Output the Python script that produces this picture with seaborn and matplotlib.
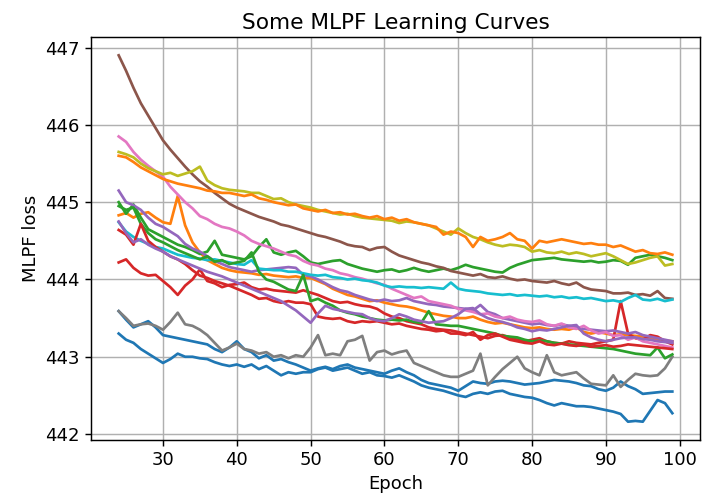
import numpy as np
import pandas as pd
import matplotlib
matplotlib.use("Agg")
import matplotlib.pyplot as plt
import seaborn as sns

epochs = list(range(24, 100))

# one loss curve per run (epochs 24..99)
blue_a = [443.59, 443.48, 443.38, 443.42, 443.46, 443.38, 443.28, 443.26, 443.24, 443.22,
          443.20, 443.18, 443.16, 443.10, 443.06, 443.12, 443.20, 443.10, 443.06, 442.98,
          443.02, 442.95, 442.97, 442.93, 442.90, 442.86, 442.82, 442.85, 442.87, 442.84,
          442.88, 442.90, 442.86, 442.84, 442.82, 442.80, 442.78, 442.82, 442.85, 442.80,
          442.76, 442.70, 442.66, 442.64, 442.62, 442.60, 442.56, 442.62, 442.68, 442.66,
          442.65, 442.68, 442.69, 442.68, 442.66, 442.64, 442.65, 442.66, 442.68, 442.70,
          442.69, 442.68, 442.66, 442.63, 442.62, 442.58, 442.56, 442.60, 442.68, 442.62,
          442.58, 442.52, 442.53, 442.54, 442.55, 442.55]
orange_a = [444.83, 444.86, 444.80, 444.85, 444.87, 444.80, 444.74, 444.72, 445.08, 444.70,
            444.48, 444.35, 444.25, 444.20, 444.15, 444.12, 444.10, 444.09, 444.08, 444.06,
            444.07, 444.05, 444.04, 444.03, 444.04, 444.02, 444.02, 443.98, 443.94, 443.88,
            443.84, 443.80, 443.78, 443.75, 443.72, 443.73, 443.70, 443.68, 443.66, 443.65,
            443.63, 443.60, 443.57, 443.55, 443.53, 443.52, 443.50, 443.50, 443.52, 443.48,
            443.45, 443.43, 443.44, 443.42, 443.40, 443.38, 443.37, 443.38, 443.36, 443.35,
            443.36, 443.35, 443.38, 443.32, 443.30, 443.32, 443.30, 443.28, 443.29, 443.28,
            443.27, 443.26, 443.24, 443.22, 443.21, 443.20]
green_a = [445.00, 444.85, 444.97, 444.80, 444.65, 444.60, 444.55, 444.50, 444.45, 444.42,
           444.38, 444.33, 444.36, 444.50, 444.32, 444.30, 444.28, 444.26, 444.30, 444.42,
           444.52, 444.35, 444.32, 444.35, 444.37, 444.30, 444.22, 444.20, 444.22, 444.24,
           444.25, 444.20, 444.17, 444.14, 444.12, 444.10, 444.12, 444.13, 444.10, 444.12,
           444.15, 444.12, 444.10, 444.12, 444.14, 444.12, 444.15, 444.19, 444.16, 444.14,
           444.12, 444.10, 444.09, 444.15, 444.19, 444.22, 444.25, 444.26, 444.27, 444.28,
           444.26, 444.25, 444.24, 444.23, 444.24, 444.22, 444.23, 444.25, 444.24, 444.19,
           444.28, 444.30, 444.32, 444.30, 444.28, 444.25]
red_a = [444.22, 444.26, 444.15, 444.08, 444.05, 444.06, 443.98, 443.90, 443.80, 443.92,
         444.00, 444.13, 443.98, 443.95, 443.90, 443.93, 443.94, 443.96, 443.90, 443.87,
         443.88, 443.86, 443.85, 443.84, 443.83, 443.86, 443.83, 443.80, 443.76, 443.72,
         443.70, 443.71, 443.68, 443.66, 443.65, 443.62, 443.56, 443.52, 443.50, 443.46,
         443.44, 443.42, 443.38, 443.36, 443.35, 443.34, 443.32, 443.30, 443.28, 443.26,
         443.24, 443.27, 443.28, 443.25, 443.22, 443.20, 443.22, 443.24, 443.20, 443.18,
         443.17, 443.20, 443.18, 443.17, 443.16, 443.18, 443.20, 443.22, 443.72, 443.30,
         443.24, 443.22, 443.28, 443.26, 443.20, 443.16]
purple_a = [445.15, 445.00, 444.96, 444.90, 444.80, 444.72, 444.68, 444.62, 444.56, 444.46,
            444.40, 444.36, 444.30, 444.24, 444.20, 444.16, 444.14, 444.12, 444.10, 444.12,
            444.13, 444.14, 444.15, 444.16, 444.15, 444.06, 444.04, 444.00, 443.95, 443.90,
            443.86, 443.84, 443.80, 443.77, 443.74, 443.72, 443.74, 443.72, 443.73, 443.76,
            443.72, 443.70, 443.68, 443.67, 443.65, 443.64, 443.63, 443.62, 443.60, 443.67,
            443.58, 443.55, 443.50, 443.48, 443.46, 443.44, 443.42, 443.43, 443.41, 443.40,
            443.42, 443.40, 443.38, 443.36, 443.35, 443.34, 443.33, 443.34, 443.32, 443.30,
            443.32, 443.28, 443.26, 443.24, 443.22, 443.20]
brown = [446.90, 446.70, 446.48, 446.28, 446.12, 445.96, 445.80, 445.68, 445.57, 445.46,
         445.36, 445.27, 445.20, 445.12, 445.05, 444.98, 444.93, 444.89, 444.85, 444.81,
         444.78, 444.75, 444.71, 444.69, 444.66, 444.63, 444.60, 444.57, 444.55, 444.52,
         444.49, 444.45, 444.43, 444.42, 444.38, 444.41, 444.42, 444.36, 444.31, 444.28,
         444.25, 444.22, 444.20, 444.17, 444.15, 444.11, 444.09, 444.07, 444.05, 444.07,
         444.03, 444.02, 444.04, 444.01, 443.99, 444.00, 443.98, 443.97, 443.96, 443.98,
         443.95, 443.93, 443.96, 443.90, 443.87, 443.86, 443.85, 443.82, 443.82, 443.83,
         443.80, 443.81, 443.79, 443.85, 443.76, 443.75]
pink = [445.85, 445.78, 445.65, 445.55, 445.47, 445.40, 445.33, 445.20, 445.10, 445.00,
        444.92, 444.82, 444.78, 444.72, 444.68, 444.66, 444.62, 444.57, 444.50, 444.46,
        444.43, 444.40, 444.36, 444.32, 444.30, 444.24, 444.20, 444.18, 444.14, 444.12,
        444.08, 444.06, 444.03, 444.01, 443.98, 443.95, 443.93, 443.88, 443.84, 443.80,
        443.76, 443.78, 443.72, 443.70, 443.68, 443.66, 443.62, 443.60, 443.58, 443.55,
        443.56, 443.52, 443.50, 443.52, 443.48, 443.46, 443.45, 443.47, 443.42, 443.40,
        443.43, 443.38, 443.36, 443.40, 443.34, 443.30, 443.32, 443.27, 443.28, 443.22,
        443.25, 443.20, 443.18, 443.16, 443.14, 443.12]
gray = [443.59, 443.50, 443.40, 443.42, 443.43, 443.40, 443.35, 443.45, 443.57, 443.42,
        443.40, 443.35, 443.28, 443.18, 443.08, 443.12, 443.17, 443.10, 443.08, 443.04,
        443.06, 443.00, 443.02, 442.98, 443.02, 443.00, 443.12, 443.28, 443.02, 443.04,
        443.02, 443.20, 443.22, 443.27, 442.95, 443.06, 443.08, 443.03, 443.06, 443.08,
        442.92, 442.88, 442.84, 442.80, 442.76, 442.74, 442.74, 442.78, 442.82, 443.04,
        442.63, 442.74, 442.84, 442.92, 443.00, 442.85, 442.80, 442.76, 443.02, 442.80,
        442.76, 442.78, 442.80, 442.72, 442.65, 442.64, 442.63, 442.76, 442.61, 442.70,
        442.78, 442.76, 442.75, 442.76, 442.85, 443.00]
olive = [445.65, 445.62, 445.58, 445.50, 445.44, 445.40, 445.36, 445.38, 445.34, 445.37,
         445.40, 445.46, 445.28, 445.22, 445.18, 445.16, 445.15, 445.14, 445.12, 445.12,
         445.08, 445.04, 445.05, 445.00, 444.97, 444.95, 444.93, 444.90, 444.88, 444.86,
         444.84, 444.85, 444.82, 444.80, 444.79, 444.78, 444.77, 444.76, 444.73, 444.75,
         444.74, 444.72, 444.70, 444.66, 444.62, 444.58, 444.66, 444.60, 444.55, 444.52,
         444.48, 444.45, 444.43, 444.45, 444.44, 444.42, 444.36, 444.38, 444.35, 444.34,
         444.36, 444.33, 444.35, 444.33, 444.30, 444.32, 444.34, 444.30, 444.25, 444.20,
         444.22, 444.25, 444.28, 444.30, 444.18, 444.20]
cyan = [444.74, 444.62, 444.55, 444.50, 444.46, 444.42, 444.40, 444.36, 444.32, 444.30,
        444.28, 444.27, 444.25, 444.26, 444.24, 444.22, 444.20, 444.19, 444.25, 444.14,
        444.13, 444.12, 444.12, 444.10, 444.10, 444.08, 444.06, 444.05, 444.06, 444.03,
        444.02, 444.00, 444.01, 443.99, 443.98, 443.96, 443.92, 443.90, 443.91, 443.90,
        443.90, 443.89, 443.90, 443.89, 443.88, 443.96, 443.88, 443.86, 443.85, 443.84,
        443.82, 443.81, 443.80, 443.81, 443.79, 443.80, 443.79, 443.78, 443.79, 443.77,
        443.78, 443.76, 443.77, 443.75, 443.76, 443.74, 443.72, 443.73, 443.71, 443.76,
        443.80, 443.74, 443.73, 443.75, 443.72, 443.74]
blue_b = [443.30, 443.22, 443.18, 443.10, 443.04, 442.98, 442.92, 442.97, 443.04, 443.00,
          443.00, 442.98, 442.97, 442.93, 442.90, 442.88, 442.90, 442.87, 442.90, 442.84,
          442.88, 442.82, 442.76, 442.80, 442.78, 442.80, 442.80, 442.84, 442.86, 442.82,
          442.84, 442.86, 442.82, 442.78, 442.80, 442.76, 442.75, 442.73, 442.76, 442.72,
          442.68, 442.63, 442.60, 442.58, 442.56, 442.53, 442.50, 442.48, 442.52, 442.54,
          442.52, 442.55, 442.56, 442.52, 442.50, 442.48, 442.47, 442.44, 442.40, 442.37,
          442.40, 442.38, 442.36, 442.36, 442.35, 442.33, 442.31, 442.29, 442.26, 442.16,
          442.17, 442.16, 442.30, 442.44, 442.40, 442.27]
orange_b = [445.60, 445.58, 445.52, 445.45, 445.40, 445.35, 445.30, 445.27, 445.24, 445.22,
            445.20, 445.18, 445.15, 445.14, 445.12, 445.12, 445.10, 445.08, 445.10, 445.05,
            445.03, 445.00, 444.98, 444.96, 444.97, 444.92, 444.90, 444.88, 444.90, 444.86,
            444.87, 444.84, 444.85, 444.82, 444.80, 444.82, 444.78, 444.80, 444.76, 444.78,
            444.74, 444.72, 444.70, 444.68, 444.58, 444.62, 444.60, 444.55, 444.42, 444.55,
            444.50, 444.52, 444.55, 444.60, 444.52, 444.50, 444.40, 444.50, 444.48, 444.50,
            444.52, 444.50, 444.48, 444.46, 444.47, 444.45, 444.45, 444.42, 444.44, 444.40,
            444.36, 444.38, 444.34, 444.33, 444.35, 444.32]
green_b = [444.95, 444.90, 444.93, 444.72, 444.60, 444.52, 444.48, 444.43, 444.38, 444.34,
           444.30, 444.26, 444.30, 444.23, 444.25, 444.20, 444.22, 444.24, 444.35, 444.10,
           444.00, 443.97, 443.92, 443.87, 443.85, 444.06, 443.72, 443.75, 443.70, 443.66,
           443.60, 443.57, 443.55, 443.52, 443.50, 443.48, 443.47, 443.48, 443.47, 443.48,
           443.45, 443.44, 443.59, 443.42, 443.41, 443.40, 443.40, 443.38, 443.36, 443.34,
           443.32, 443.30, 443.27, 443.26, 443.25, 443.22, 443.20, 443.21, 443.20, 443.18,
           443.17, 443.16, 443.15, 443.14, 443.13, 443.12, 443.11, 443.10, 443.08, 443.06,
           443.04, 443.03, 443.02, 443.12, 442.98, 443.03]
red_b = [444.64, 444.58, 444.45, 444.72, 444.50, 444.42, 444.36, 444.30, 444.26, 444.20,
         444.12, 444.05, 444.02, 443.98, 443.95, 443.92, 443.88, 443.84, 443.80, 443.75,
         443.76, 443.72, 443.70, 443.72, 443.70, 443.70, 443.68, 443.52, 443.50, 443.49,
         443.50, 443.46, 443.44, 443.46, 443.45, 443.46, 443.44, 443.42, 443.43, 443.40,
         443.38, 443.36, 443.35, 443.33, 443.34, 443.30, 443.30, 443.28, 443.32, 443.22,
         443.28, 443.30, 443.26, 443.22, 443.20, 443.18, 443.17, 443.20, 443.16, 443.15,
         443.17, 443.15, 443.14, 443.16, 443.13, 443.14, 443.15, 443.13, 443.14, 443.16,
         443.15, 443.14, 443.13, 443.12, 443.11, 443.10]
purple_b = [444.75, 444.60, 444.48, 444.52, 444.45, 444.40, 444.36, 444.30, 444.26, 444.22,
            444.18, 444.14, 444.10, 444.07, 444.04, 444.00, 443.96, 443.92, 443.88, 443.84,
            443.80, 443.76, 443.72, 443.66, 443.60, 443.52, 443.44, 443.56, 443.66, 443.62,
            443.60, 443.58, 443.56, 443.55, 443.50, 443.47, 443.46, 443.50, 443.55, 443.52,
            443.48, 443.46, 443.44, 443.45, 443.46, 443.50, 443.55, 443.62, 443.63, 443.55,
            443.50, 443.47, 443.45, 443.42, 443.38, 443.36, 443.33, 443.35, 443.34, 443.36,
            443.38, 443.40, 443.41, 443.30, 443.25, 443.22, 443.20, 443.22, 443.24, 443.25,
            443.25, 443.23, 443.22, 443.20, 443.19, 443.18]

runs = [blue_a, orange_a, green_a, red_a, purple_a, brown, pink, gray, olive, cyan,
        blue_b, orange_b, green_b, red_b, purple_b]

# long format, one run id per curve
frames = []
for i, vals in enumerate(runs):
    frames.append(pd.DataFrame({"Epoch": epochs, "loss": vals, "run": i}))
df = pd.concat(frames, ignore_index=True)

colors = sns.color_palette("tab10", 10)
palette = [colors[i % 10] for i in range(len(runs))]

# reference looks like a notebook figure shown ~1.3x larger
s = 1.3
plt.rcParams.update({
    "font.size": 10 * s,
    "axes.titlesize": 12 * s,
    "axes.labelsize": 10 * s,
    "xtick.labelsize": 10 * s,
    "ytick.labelsize": 10 * s,
    "axes.linewidth": 0.8 * s,
    "grid.linewidth": 0.8 * s,
    "xtick.major.size": 3.5 * s,
    "ytick.major.size": 3.5 * s,
    "xtick.major.width": 0.8 * s,
    "ytick.major.width": 0.8 * s,
})

fig = plt.figure(figsize=(7.03, 4.96), dpi=100)
ax = fig.add_axes([91 / 703, 1 - 440 / 496, 609 / 703, 403 / 496])
sns.lineplot(data=df, x="Epoch", y="loss", hue="run", palette=palette,
             legend=False, ax=ax, linewidth=1.5 * s)
ax.grid(True)
ax.set_title("Some MLPF Learning Curves")
ax.set_xlabel("Epoch")
ax.set_ylabel("MLPF loss")

fig.savefig("out.png", dpi=100)
